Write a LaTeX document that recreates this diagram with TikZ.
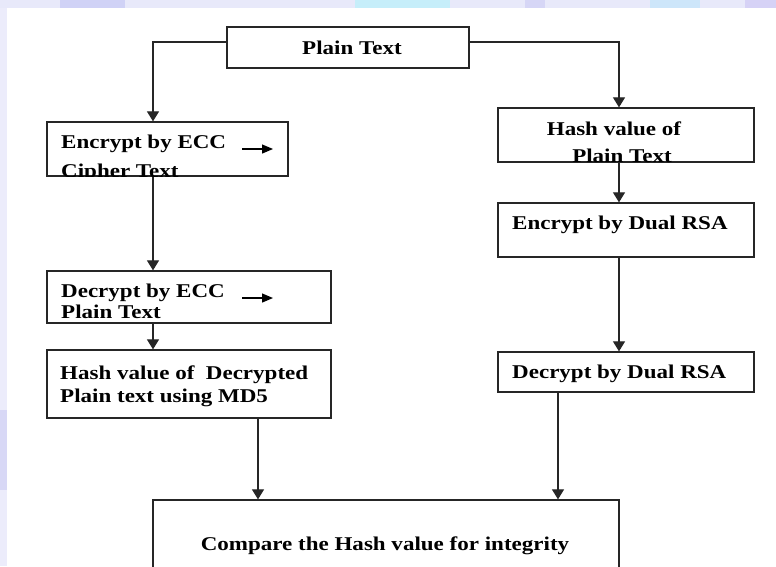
\documentclass[tikz,border=0pt]{standalone}
\usepackage{fontspec}
\setmainfont{Liberation Serif}[FakeStretch=1.18]
\usetikzlibrary{arrows.meta,fit}

\tikzset{
  box/.style={draw=black!85, line width=1.3pt, inner sep=0pt, fill=white},
  txt/.style={inner sep=0pt, font=\fontsize{19.5}{21}\selectfont\bfseries},
  conn/.style={draw=black!85, line width=1.2pt},
  arr/.style={conn, -{Triangle[width=12pt,length=10pt]}},
  minarr/.style={draw=black, line width=1.3pt, -{Triangle[width=9pt,length=11pt]}},
}

\begin{document}
\begin{tikzpicture}[x=1pt, y=-1pt]
\useasboundingbox (0,0) rectangle (776,566);
\fill[white] (0,0) rectangle (776,566);

% pale tinted margins along the top and the left edge
\fill[fill={rgb,255:red,232;green,233;blue,250}] (0,0) rectangle (776,8);
\fill[fill={rgb,255:red,208;green,210;blue,246}] (60,0) rectangle (125,8);
\fill[fill={rgb,255:red,198;green,238;blue,250}] (355,0) rectangle (450,8);
\fill[fill={rgb,255:red,214;green,214;blue,246}] (525,0) rectangle (545,8);
\fill[fill={rgb,255:red,205;green,230;blue,250}] (650,0) rectangle (700,8);
\fill[fill={rgb,255:red,214;green,210;blue,246}] (745,0) rectangle (776,8);
\fill[fill={rgb,255:red,236;green,236;blue,251}] (0,8) rectangle (7,566);
\fill[fill={rgb,255:red,216;green,216;blue,246}] (0,410) rectangle (7,490);

% corner points of the boxes
\coordinate (ptA) at (227,27);   \coordinate (ptB) at (469,68);
\coordinate (encA) at (47,122);  \coordinate (encB) at (288,176);
\coordinate (decA) at (47,271);  \coordinate (decB) at (331,323);
\coordinate (hdA) at (47,350);   \coordinate (hdB) at (331,418);
\coordinate (hpA) at (498,108);  \coordinate (hpB) at (754,162);
\coordinate (erA) at (498,203);  \coordinate (erB) at (754,257);
\coordinate (drA) at (498,352);  \coordinate (drB) at (754,392);
\coordinate (cmA) at (153,500);  \coordinate (cmB) at (619,590);

% boxes
\node[box, fit=(ptA)(ptB)] (pt) {};
\node[box, fit=(encA)(encB)] (enc) {};
\node[box, fit=(decA)(decB)] (dec) {};
\node[box, fit=(hdA)(hdB)] (hd) {};
\node[box, fit=(hpA)(hpB)] (hp) {};
\node[box, fit=(erA)(erB)] (er) {};
\node[box, fit=(drA)(drB)] (dr) {};
\node[box, fit=(cmA)(cmB)] (cm) {};

% box texts, each kept inside its frame
\node[txt, anchor=base] (ptT) at (352,54) {Plain Text};
\begin{scope}
  \clip (encA) rectangle (encB);
  \node[txt, anchor=base west] (encT1) at (61,148) {Encrypt by ECC};
  \node[txt, anchor=base west] (encT2) at (61,177) {Cipher Text};
\end{scope}
\node[txt, anchor=base west] (decT1) at (61,297) {Decrypt by ECC};
\node[txt, anchor=base west] (decT2) at (61,318) {Plain Text};
\node[txt, anchor=base west] (hdT1) at (60,379) {Hash value of\ \ Decrypted};
\node[txt, anchor=base west] (hdT2) at (60,402) {Plain text using MD5};
\begin{scope}
  \clip (hpA) rectangle (hpB);
  \node[txt, anchor=base] (hpT1) at (614,135) {Hash value of};
  \node[txt, anchor=base] (hpT2) at (622,162) {Plain Text};
\end{scope}
\node[txt, anchor=base west] (erT) at (512,229) {Encrypt by Dual RSA};
\node[txt, anchor=base west] (drT) at (512,378) {Decrypt by Dual RSA};
\node[txt, anchor=base] (cmT) at (385,550) {Compare the Hash value for integrity};

% small arrows inside the ECC boxes
\coordinate (s1a) at (242,149); \coordinate (s1b) at (273,149);
\coordinate (s2a) at (242,298); \coordinate (s2b) at (273,298);
\draw[minarr] (s1a) -- (s1b);
\draw[minarr] (s2a) -- (s2b);

% connector guide points
\coordinate (xl) at (153,42);
\coordinate (xr) at (619,42);
\coordinate (xm) at (258,0);
\coordinate (xn) at (558,0);

% connectors
\draw[arr] (pt.west |- xl) -| (enc.north -| xl);
\draw[arr] (pt.east |- xr) -| (hp.north -| xr);
\draw[arr] (enc.south -| xl) -- (dec.north -| xl);
\draw[arr] (dec.south -| xl) -- (hd.north -| xl);
\draw[arr] (hd.south -| xm) -- (cm.north -| xm);
\draw[arr] (hp.south -| xr) -- (er.north -| xr);
\draw[arr] (er.south -| xr) -- (dr.north -| xr);
\draw[arr] (dr.south -| xn) -- (cm.north -| xn);
\end{tikzpicture}
\end{document}
